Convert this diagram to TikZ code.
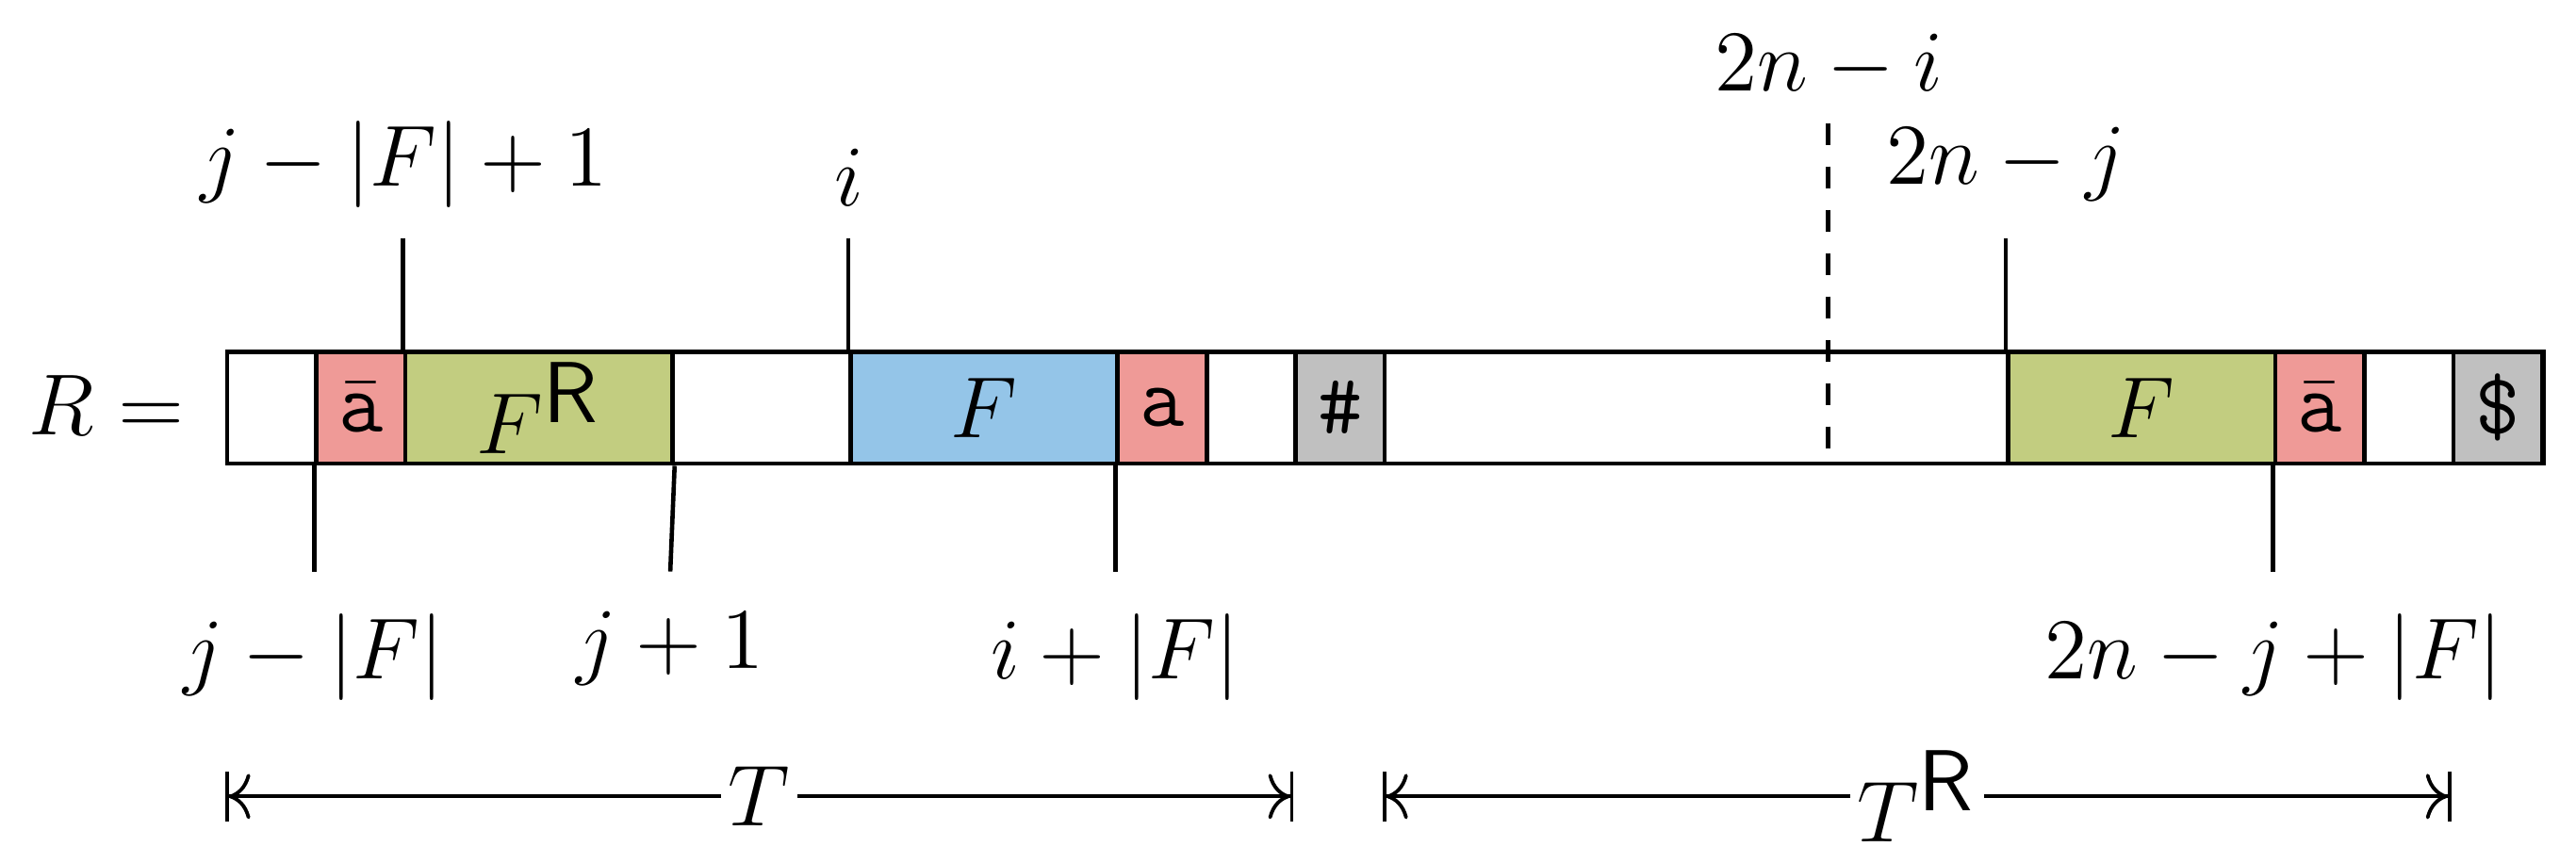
\documentclass[tikz,border=0pt]{standalone}
\usetikzlibrary{arrows.meta}
\definecolor{cpink}{HTML}{EF9A97}
\definecolor{cgreen}{HTML}{C2CD80}
\definecolor{cblue}{HTML}{94C5E8}
\definecolor{cgray}{HTML}{C0C0C0}
\begin{document}
\begin{tikzpicture}[x=0.008cm,y=-0.008cm,
  cell/.style={draw,line width=0.6pt,minimum height=0.544cm,inner sep=0pt,anchor=north west},
  tick/.style={line width=0.6pt},
  lab/.style={font=\large},
  dim/.style={line width=0.5pt,{Bar[width=7pt]To[length=3pt]}-{To[length=3pt]Bar[width=7pt]}}]
\useasboundingbox (0,0) rectangle (1568,525);
\def\u{54.2}
\node[cell,minimum width=1410*0.008cm] (bar) at (137,213) {};
\node[cell,fill=cpink,minimum width=\u*0.008cm] (c1) at (137+\u,213) {\large$\bar{\texttt{a}}$};
\node[cell,fill=cgreen,minimum width=3*\u*0.008cm] (c2) at (137+2*\u,213) {\large$F^{\textsf{R}}$};
\node[cell,fill=cblue,minimum width=3*\u*0.008cm] (c3) at (137+7*\u,213) {\large$F$};
\node[cell,fill=cpink,minimum width=\u*0.008cm] (c4) at (137+10*\u,213) {\large$\texttt{a}$};
\node[cell,fill=cgray,minimum width=\u*0.008cm] (c5) at (137+12*\u,213) {\large$\texttt{\#}$};
\node[cell,fill=cgreen,minimum width=3*\u*0.008cm] (c6) at (137+20*\u,213) {\large$F$};
\node[cell,fill=cpink,minimum width=\u*0.008cm] (c7) at (137+23*\u,213) {\large$\bar{\texttt{a}}$};
\node[cell,fill=cgray,minimum width=\u*0.008cm] (c8) at (137+25*\u,213) {\large$\texttt{\$}$};
\node[font=\large] (R) at (65,247) {$R=$};
% ticks
\coordinate (t1) at (137+2*\u,145);
\coordinate (t2) at (137+7*\u,145);
\coordinate (t3) at (137+20*\u,145);
\coordinate (td) at (137+18*\u,75);
\coordinate (tdb) at (137+18*\u,281);
\coordinate (b1) at (137+\u,348);
\coordinate (b2) at (137+5*\u,348);
\coordinate (b3) at (137+10*\u,348);
\coordinate (b4) at (137+23*\u,348);
\draw[tick] (t1) -- (c2.north west);
\draw[tick] (t2) -- (c3.north west);
\draw[tick] (t3) -- (c6.north west);
\draw[tick,dashed] (td) -- (tdb);
\draw[tick] (b1) -- (c1.south west);
\draw[tick] (b2) -- (c2.south east);
\draw[tick] (b3) -- (c4.south west);
\draw[tick] (b4) -- (c7.south west);
\node[lab] (l1) at (246,100) {$j-|F|+1$};
\node[lab] (l2) at (517,108) {$i$};
\node[lab] (l3) at (1113,40) {$2n-i$};
\node[lab] (l4) at (1221,100) {$2n-j$};
\node[lab] (l5) at (191,400) {$j-|F|$};
\node[lab] (l6) at (408,395) {$j+1$};
\node[lab] (l7) at (679,400) {$i+|F|$};
\node[lab] (l8) at (1384,400) {$2n-j+|F|$};
% dimension arrows
\coordinate (a1) at (137,485);
\coordinate (a2) at (137+12*\u,485);
\coordinate (a3) at (137+13*\u,485);
\coordinate (a4) at (137+25*\u,485);
\draw[dim] (a1) -- (a2) node[midway,fill=white,inner sep=1pt,font=\large] (T) {$T$};
\draw[dim] (a3) -- (a4) node[midway,fill=white,inner sep=1pt,font=\large] (TR) {$T^{\textsf{R}}$};
\end{tikzpicture}
\end{document}
